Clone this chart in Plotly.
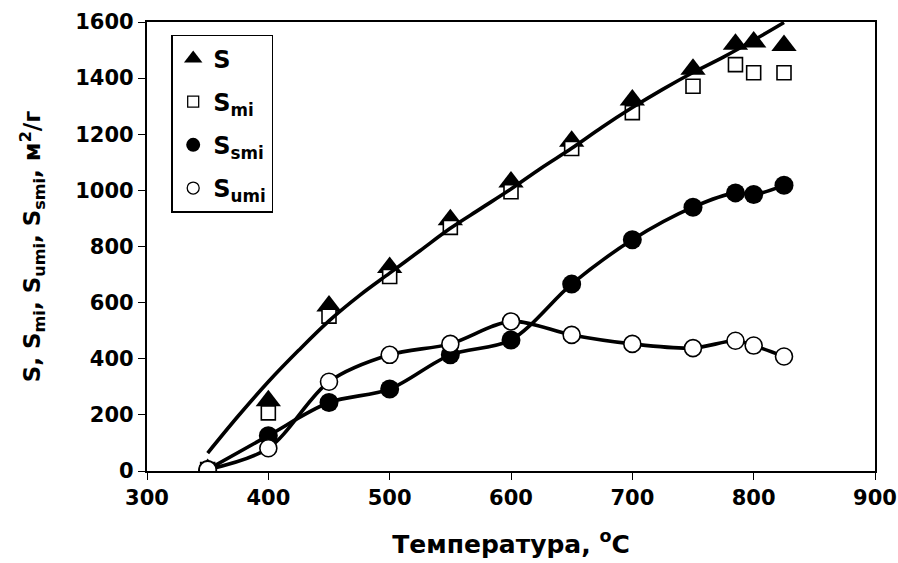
import plotly.graph_objects as go

# Temperature of treatment, °C
temperature = [350, 400, 450, 500, 550, 600, 650, 700, 750, 785, 800, 825]

# Specific surface areas, m2/g
s_total = [5, 250, 588, 725, 895, 1030, 1175, 1322, 1432, 1521, 1529, 1516]
s_mi = [5, 207, 552, 693, 868, 995, 1149, 1277, 1371, 1448, 1419, 1419]
s_smi = [5, 126, 244, 292, 414, 467, 666, 824, 940, 991, 985, 1018]
s_umi = [5, 81, 318, 414, 453, 533, 485, 453, 438, 464, 447, 408]

# Trend curve drawn through the S values
trend_t = [350, 375, 400, 425, 450, 475, 500, 525, 550, 575, 600,
           625, 650, 675, 700, 725, 750, 775, 800, 825]
trend_s = [64, 195, 318, 430, 535, 625, 705, 785, 865, 935, 1005,
           1080, 1150, 1225, 1295, 1360, 1420, 1475, 1535, 1598]

x_ticks = [300, 400, 500, 600, 700, 800, 900]
y_ticks = [0, 200, 400, 600, 800, 1000, 1200, 1400, 1600]

FONT = "DejaVu Sans"
BLACK = "#000000"
LW = 3.6

fig = go.Figure()

# smoothed connecting lines
fig.add_trace(go.Scatter(x=temperature, y=s_smi, mode="lines", showlegend=False,
                         line=dict(color=BLACK, width=LW, shape="spline", smoothing=0.9),
                         hoverinfo="skip"))
fig.add_trace(go.Scatter(x=temperature, y=s_umi, mode="lines", showlegend=False,
                         line=dict(color=BLACK, width=LW, shape="spline", smoothing=0.9),
                         hoverinfo="skip"))

# point markers
fig.add_trace(go.Scatter(x=temperature, y=s_total, mode="markers", showlegend=False,
                         marker=dict(symbol="triangle-up", size=22, color=BLACK,
                                     line=dict(width=0))))
fig.add_trace(go.Scatter(x=temperature, y=s_mi, mode="markers", showlegend=False,
                         marker=dict(symbol="square", size=14, color="white",
                                     line=dict(color=BLACK, width=1.6))))
fig.add_trace(go.Scatter(x=temperature, y=s_smi, mode="markers", showlegend=False,
                         marker=dict(symbol="circle", size=19, color=BLACK,
                                     line=dict(width=0))))
fig.add_trace(go.Scatter(x=temperature, y=s_umi, mode="markers", showlegend=False,
                         marker=dict(symbol="circle", size=17, color="white",
                                     line=dict(color=BLACK, width=1.6))))

# trend curve for S
fig.add_trace(go.Scatter(x=trend_t, y=trend_s, mode="lines", showlegend=False,
                         line=dict(color=BLACK, width=LW, shape="spline", smoothing=1.0),
                         hoverinfo="skip"))

# legend entries
legend_items = [
    ("S", dict(symbol="triangle-up", size=17, color=BLACK, line=dict(width=0))),
    ("S<sub>mi</sub>", dict(symbol="square", size=11, color="white",
                            line=dict(color=BLACK, width=1.3))),
    ("S<sub>smi</sub>", dict(symbol="circle", size=14, color=BLACK, line=dict(width=0))),
    ("S<sub>umi</sub>", dict(symbol="circle", size=12, color="white",
                             line=dict(color=BLACK, width=1.3))),
]
for i, (name, mk) in enumerate(legend_items):
    fig.add_trace(go.Scatter(x=[None], y=[None], mode="markers", name=name,
                             legendgroup=f"g{i}", marker=mk))

axis_common = dict(
    showline=True, linecolor=BLACK, linewidth=2.2, mirror=True,
    ticks="outside", ticklen=7, tickwidth=1.2, tickcolor=BLACK,
    showgrid=False, zeroline=False,
    tickfont=dict(family=FONT, size=21, color=BLACK, weight="bold"),
)

fig.update_layout(
    width=898, height=563,
    margin=dict(l=147, r=23, t=22, b=92, autoexpand=False),
    paper_bgcolor="white", plot_bgcolor="white",
    font=dict(family=FONT, color=BLACK),
    xaxis=dict(range=[300, 900], tickvals=x_ticks, ticktext=[str(v) for v in x_ticks],
               title=dict(text="Температура, <sup>o</sup>C", standoff=26,
                          font=dict(family=FONT, size=25, color=BLACK, weight="bold")),
               **axis_common),
    yaxis=dict(range=[0, 1600], tickvals=y_ticks, ticktext=[str(v) for v in y_ticks],
               title=dict(text="S, S<sub>mi</sub>, S<sub>umi</sub>, S<sub>smi</sub>, м<sup>2</sup>/г",
                          standoff=28,
                          font=dict(family=FONT, size=23, color=BLACK, weight="bold")),
               **axis_common),
    legend=dict(x=0.0335, y=0.972, xanchor="left", yanchor="top",
                bordercolor=BLACK, borderwidth=1.8, bgcolor="white",
                font=dict(family=FONT, size=24, color=BLACK, weight="bold"),
                tracegroupgap=9, itemsizing="trace"),
    showlegend=True,
)

fig.write_html("out.html")
